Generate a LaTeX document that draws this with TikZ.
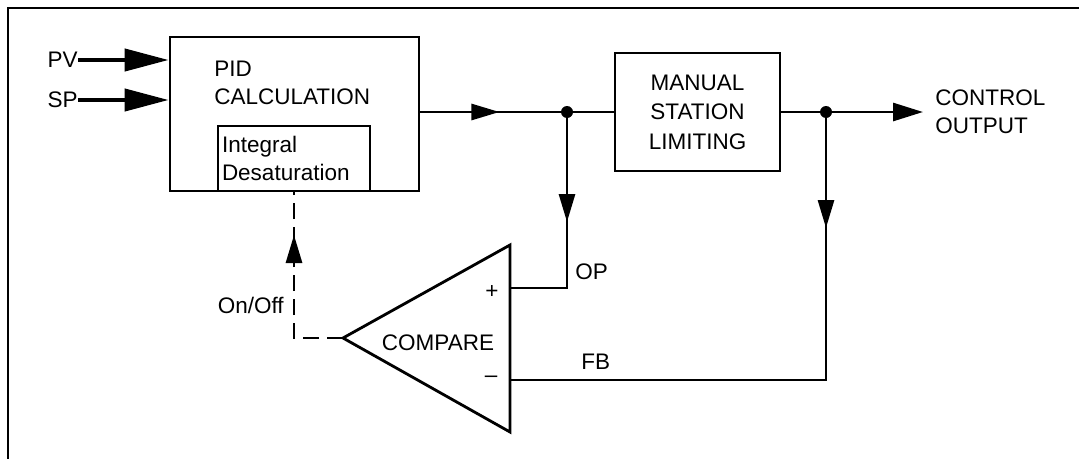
\documentclass[tikz,border=0pt]{standalone}
\usepackage{fontspec}
\setmainfont{Liberation Sans}
\usetikzlibrary{arrows.meta,positioning,calc,decorations.markings}

\begin{document}
\begin{tikzpicture}[
  x=0.25mm, y=-0.25mm,
  font=\fontsize{16}{20}\selectfont,
  line/.style={line width=2pt},
  flow/.style={line width=2pt, -{Triangle[length=7.5mm,width=4.5mm]}},
  inarrow/.style={line width=3pt, -{Triangle[length=11mm,width=5.5mm]}},
  midarrow/.style={postaction={decorate}, decoration={markings,
      mark=at position #1 with {\arrow{Triangle[length=7mm,width=4mm]}}}},
  block/.style={draw, line width=2pt, inner sep=0pt},
  txt/.style={inner sep=0pt, align=left},
  dot/.style={circle, fill, inner sep=0pt, minimum size=3mm}
]
\useasboundingbox (0,0) rectangle (1079,459);

% Frame (only top and left edges show)
\draw[line width=1.5pt] (1079,8) -- (8,8) -- (8,459);

% Blocks
\node[block, minimum width=62.25mm, minimum height=38.5mm] (pid) at (294.5,114) {};
\node[txt, anchor=north west] (pidtxt) at (214,61) {PID\\CALCULATION};
\node[block, minimum width=38mm, minimum height=16.25mm, align=left,
      text width=36mm, inner xsep=1mm] (integ) at (294,158.5) {Integral\\Desaturation};
\node[block, minimum width=41.25mm, minimum height=29.5mm, align=center,
      font=\fontsize{16}{21}\selectfont] (manual) at (697.5,112) {MANUAL\\STATION\\LIMITING};

% Comparator
\coordinate (ctop) at (510,245);
\coordinate (cbot) at (510,432);
\coordinate (apex) at (343,338);
\coordinate (plus) at (510,288);
\coordinate (minus) at (510,380);
\draw[line] (ctop) -- (apex) -- (cbot) -- cycle;
\node[txt] (cmp) at (438,343) {COMPARE};
\node[txt] (plussign) at (492,292) {+};
\node[txt] (minussign) at (491,379) {--};

% Junctions and output
\coordinate (j1) at (567,112);
\coordinate (j2) at (826,112);
\coordinate (out) at (923,112);

% Inputs
\node[txt, anchor=east] (pv) at (78,60) {PV};
\node[txt, anchor=east] (sp) at (78,100) {SP};
\draw[inarrow] (pv.east) -- (pv.east -| pid.west);
\draw[inarrow] (sp.east) -- (sp.east -| pid.west);

% Signal flow
\draw[line, midarrow=1.975cm] (pid.east |- j1) -- (manual.west);
\draw[line] (manual.east) -- (j2);
\draw[flow] (j2) -- (out);
\draw[line, midarrow=2.75cm] (j1) |- (plus);
\draw[line, midarrow=2.9cm] (j2) |- (minus);
\node[dot] (dot1) at (j1) {};
\node[dot] (dot2) at (j2) {};

% On/Off feedback
\draw[line, dash pattern=on 4mm off 2mm, midarrow=3.8cm] (apex) -| (integ.south);

% Labels
\node[txt, anchor=west] (ctrl) at (935,112) {CONTROL\\OUTPUT};
\node[txt, anchor=east] (onoff) at (284,305) {On/Off};
\node[txt, anchor=west] (op) at (575,272) {OP};
\node[txt, anchor=west] (fb) at (581,362) {FB};

\end{tikzpicture}
\end{document}
